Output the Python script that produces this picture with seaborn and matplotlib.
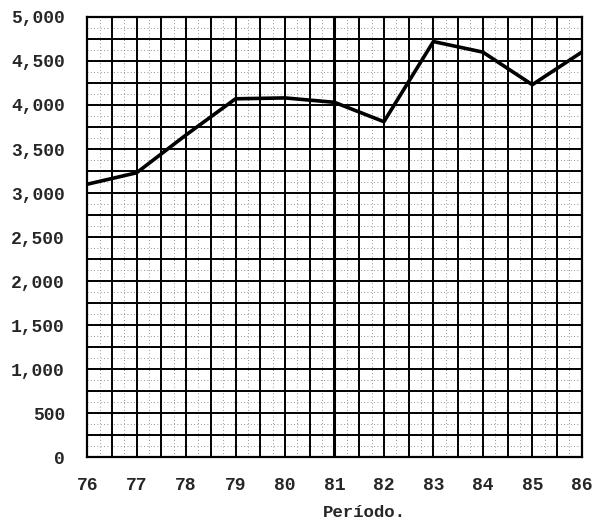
import matplotlib.pyplot as plt
import numpy as np
import pandas as pd
import seaborn as sns

# values
years = [76, 77, 78, 79, 80, 81, 82, 83, 84, 85, 86]
values = [3100, 3230, 3660, 4070, 4080, 4030, 3810, 4720, 4600, 4230, 4600]
year_labels = ['76', '77', '78', '79', '80', '81', '82', '83', '84', '85', '86']
y_ticks = [0, 500, 1000, 1500, 2000, 2500, 3000, 3500, 4000, 4500, 5000]

df = pd.DataFrame({'periodo': years, 'valor': values})

sns.set_style('white')
plt.rcParams['font.family'] = ['Liberation Mono', 'DejaVu Sans Mono']

fig = plt.figure(figsize=(6.01, 5.28), dpi=100)
ax = fig.add_axes([0.145, 0.134, 0.823, 0.834])

# graph paper grid: a line every half year and every 250
for x in np.arange(76, 86.01, 0.5):
    lw = 2.2 if x == 81 else 1.4
    ax.axvline(x, color='black', lw=lw, zorder=1)
for y in np.arange(0, 5001, 250):
    ax.axhline(y, color='black', lw=1.4, zorder=1)
# dotted fill of the paper texture
for x in np.arange(76.25, 86, 0.5):
    ax.axvline(x, color='0.45', lw=0.6, ls=(0, (1, 3)), zorder=0.5)
for y in np.arange(125, 5000, 125):
    if y % 250:
        ax.axhline(y, color='0.45', lw=0.6, ls=(0, (1, 3)), zorder=0.5)

sns.lineplot(data=df, x='periodo', y='valor', color='black', lw=2.6, ax=ax, zorder=3)

ax.set_xlim(76, 86)
ax.set_ylim(0, 5000)
ax.set_xticks(years)
ax.set_xticklabels(year_labels)
ax.set_yticks(y_ticks)
ax.set_yticklabels([f'{v:,}' for v in y_ticks])
ax.tick_params(axis='both', length=0, labelsize=13)
ax.tick_params(axis='x', pad=14)
ax.tick_params(axis='y', pad=16)
for lab in ax.get_xticklabels() + ax.get_yticklabels():
    lab.set_fontweight('bold')

ax.set_ylabel('')
ax.set_xlabel('Período.', fontsize=12.5, fontweight='bold')
ax.xaxis.set_label_coords(0.56, -0.108)

for s in ax.spines.values():
    s.set_color('black')
    s.set_linewidth(1.6)

fig.savefig('out.png', dpi=100)
